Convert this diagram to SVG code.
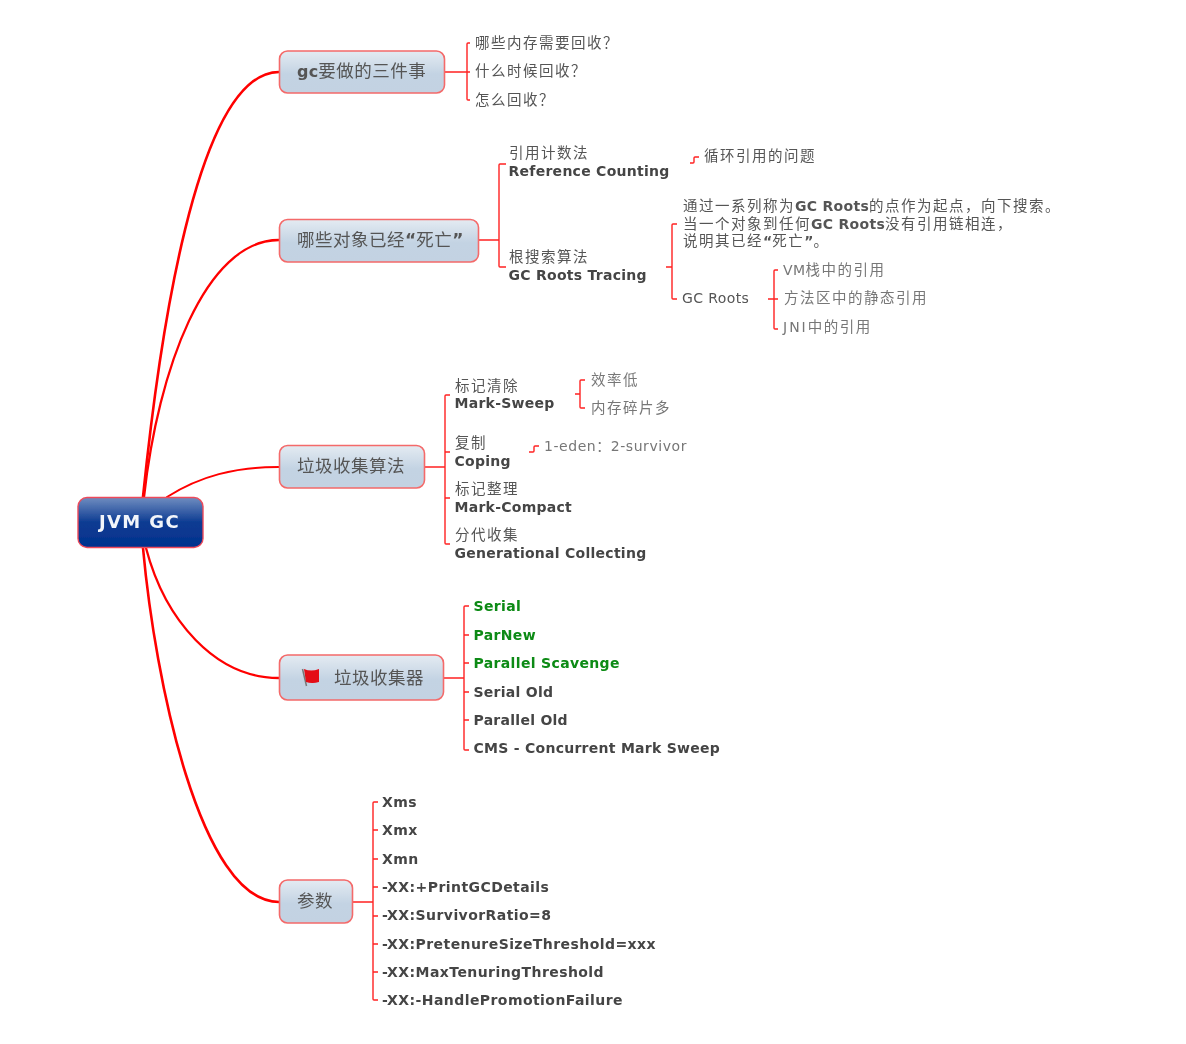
<svg xmlns="http://www.w3.org/2000/svg" width="1186" height="1044" viewBox="0 0 1186 1044">
<style>
text{font-family:"DejaVu Sans","Noto Sans CJK SC",sans-serif;fill:#555;font-size:14px;letter-spacing:.4px}
.cn{font-family:"Noto Sans CJK SC","DejaVu Sans",sans-serif;letter-spacing:1.5px;font-size:14.5px}
.q{font-family:"DejaVu Sans",sans-serif;font-size:14px;font-weight:bold;letter-spacing:0}
.tq{font-family:"DejaVu Sans",sans-serif;font-size:17px;font-weight:bold;letter-spacing:0}
.en{font-family:"DejaVu Sans",sans-serif;letter-spacing:.4px;font-size:14px}
.jni{font-family:"DejaVu Sans",sans-serif;letter-spacing:2px;font-size:14px}
.enb{font-family:"DejaVu Sans",sans-serif;font-weight:bold;letter-spacing:.3px;font-size:14px}
.b{font-weight:bold;fill:#444;font-size:14px;letter-spacing:.27px}
.p{letter-spacing:.43px}
.g{font-weight:bold;fill:#0a8a12;font-size:14px;letter-spacing:.35px}
.lt{fill:#777}
.e{letter-spacing:.55px}
.t{font-family:"Noto Sans CJK SC","DejaVu Sans",sans-serif;font-size:17.500px;fill:#555;letter-spacing:.5px}
.node{fill:url(#ng);stroke:#f46a6a;stroke-width:1.6}
.main{fill:none;stroke:#f00;stroke-linecap:round}
.br{fill:none;stroke:#f22;stroke-width:1.4}
</style>
<defs>
<linearGradient id="ng" x1="0" y1="0" x2="0" y2="1"><stop offset="0" stop-color="#e4ebf2"/><stop offset=".55" stop-color="#c3d3e3"/><stop offset="1" stop-color="#c3d2e2"/></linearGradient>
<linearGradient id="cg" x1="0" y1="0" x2="0" y2="1"><stop offset="0" stop-color="#6f8dc0"/><stop offset=".5" stop-color="#0d3b92"/><stop offset="1" stop-color="#02328e"/></linearGradient>
<filter id="soft" x="0" y="0" width="1" height="1" filterUnits="objectBoundingBox"><feGaussianBlur stdDeviation=".35"/></filter>
</defs>
<g filter="url(#soft)">
<rect width="1186" height="1044" fill="#fff"/>
<g id="connectors">
<path class="main" stroke-width="2.600" d="M143 497C158 350 195 72 279 72"/>
<path class="main" stroke-width="2.300" d="M144 497C158 370 205 240 279 240"/>
<path class="main" stroke-width="2" d="M167 497C200 476 235 467 279 467"/>
<path class="main" stroke-width="2.300" d="M146 548C165 620 215 678 279 678"/>
<path class="main" stroke-width="2.600" d="M143 548C155 680 200 902 279 902"/>
<path class="br" d="M445 72H470M470 43H468Q467 43 467 44V99Q467 100 468 100H470"/>
<path class="br" d="M479 240H499M506 164H500Q499 164 499 165V266Q499 267 500 267H506"/>
<path class="br" d="M690 163H693Q694 163 694 162V158Q694 157 695 157H699"/>
<path class="br" d="M666 267H672M677 224H673Q672 224 672 225V298Q672 299 673 299H677"/>
<path class="br" d="M768 299H778M778 270H775Q774 270 774 271V328Q774 329 775 329H778"/>
<path class="br" d="M424 467H445M450 395H446Q445 395 445 396V543Q445 544 446 544H450M445 452H450M445 498H450"/>
<path class="br" d="M575 394H580M585 380H581Q580 380 580 381V407Q580 408 581 408H585"/>
<path class="br" d="M529 452H533Q534 452 534 451V447Q534 446 535 446H539"/>
<path class="br" d="M443 678H464M469 606H465Q464 606 464 607V749Q464 750 465 750H469M464 635H469M464 663H469M464 692H469M464 720H469"/>
<path class="br" d="M353 902H373M378 802H374Q373 802 373 803V999Q373 1000 374 1000H378M373 830H378M373 859H378M373 887H378M373 916H378M373 944H378M373 972H378"/>
</g>
<g id="center"><rect x="78" y="497.500" width="125" height="50" rx="9" fill="url(#cg)" stroke="#ef4a5a" stroke-width="1.400"/><text x="139.500" y="528" text-anchor="middle" style="font-size:18px;font-weight:bold;fill:#f2f5fa;letter-spacing:1.4px">JVM GC</text></g>
<g id="n1"><rect class="node" x="279.500" y="51" width="165" height="42" rx="8"/><text class="t" x="297" y="77"><tspan style="font-family:'DejaVu Sans';font-weight:bold;font-size:16px;letter-spacing:.2px">gc</tspan>要做的三件事</text></g>
<g id="n1a"><text class="cn" x="475" y="48">哪些内存需要回收？</text></g>
<g id="n1b"><text class="cn" x="475" y="76">什么时候回收？</text></g>
<g id="n1c"><text class="cn" x="475" y="105">怎么回收？</text></g>
<g id="n2"><rect class="node" x="279.500" y="219.500" width="199" height="42.500" rx="8"/><text class="t" x="297" y="246">哪些对象已经<tspan class="tq">“</tspan>死亡<tspan class="tq">”</tspan></text></g>
<g id="n2a"><text class="cn" x="509" y="158">引用计数法</text><text class="b" x="508.500" y="176">Reference Counting</text></g>
<g id="n2a1"><text class="cn" x="704" y="161">循环引用的问题</text></g>
<g id="n2b"><text class="cn" x="509" y="262">根搜索算法</text><text class="b" x="508.500" y="280">GC Roots Tracing</text></g>
<g id="n2b1"><text class="cn" x="683" y="211">通过一系列称为<tspan class="enb">GC Roots</tspan>的点作为起点，向下搜索。</text><text class="cn" x="683" y="229">当一个对象到任何<tspan class="enb">GC Roots</tspan>没有引用链相连，</text><text class="cn" x="683" y="246">说明其已经<tspan class="q">“</tspan>死亡<tspan class="q">”</tspan>。</text></g>
<g id="n2b2"><text x="682" y="303">GC Roots</text></g>
<g id="n2b2a"><text class="cn lt" x="783" y="275"><tspan class="en">VM</tspan>栈中的引用</text></g>
<g id="n2b2b"><text class="cn lt" x="784" y="303">方法区中的静态引用</text></g>
<g id="n2b2c"><text class="cn lt" x="783" y="332"><tspan class="jni">JNI</tspan>中的引用</text></g>
<g id="n3"><rect class="node" x="279.500" y="445.500" width="145" height="42.500" rx="8"/><text class="t" x="297" y="472">垃圾收集算法</text></g>
<g id="n3a"><text class="cn" x="455" y="391">标记清除</text><text class="b" x="454.500" y="408">Mark-Sweep</text></g>
<g id="n3a1"><text class="cn lt" x="591" y="385">效率低</text></g>
<g id="n3a2"><text class="cn lt" x="591" y="413">内存碎片多</text></g>
<g id="n3b"><text class="cn" x="455" y="448">复制</text><text class="b" x="454.500" y="466">Coping</text></g>
<g id="n3b1"><text class="lt e" x="544" y="451">1-eden：2-survivor</text></g>
<g id="n3c"><text class="cn" x="455" y="494">标记整理</text><text class="b" x="454.500" y="512">Mark-Compact</text></g>
<g id="n3d"><text class="cn" x="455" y="540">分代收集</text><text class="b" x="454.500" y="558">Generational Collecting</text></g>
<g id="n4"><rect class="node" x="279.500" y="655" width="164" height="45" rx="8"/><path d="M302.500 669L306.500 686" stroke="#777" stroke-width="1.500"/><path d="M304 669Q311 672 319 669L319 682Q312 684 306 682Z" fill="#e40712"/><text class="t" x="334" y="684">垃圾收集器</text></g>
<g id="n4a"><text class="g" x="473.500" y="611">Serial</text></g>
<g id="n4b"><text class="g" x="473.500" y="640">ParNew</text></g>
<g id="n4c"><text class="g" x="473.500" y="668">Parallel Scavenge</text></g>
<g id="n4d"><text class="b" x="473.500" y="697">Serial Old</text></g>
<g id="n4e"><text class="b" x="473.500" y="725">Parallel Old</text></g>
<g id="n4f"><text class="b" x="473.500" y="753">CMS - Concurrent Mark Sweep</text></g>
<g id="n5"><rect class="node" x="279.500" y="880" width="73" height="43" rx="8"/><text class="t" x="297" y="907">参数</text></g>
<g id="n5a"><text class="b p" x="382" y="807">Xms</text></g>
<g id="n5b"><text class="b p" x="382" y="835">Xmx</text></g>
<g id="n5c"><text class="b p" x="382" y="864">Xmn</text></g>
<g id="n5d"><text class="b p" x="382" y="892">-XX:+PrintGCDetails</text></g>
<g id="n5e"><text class="b p" x="382" y="920">-XX:SurvivorRatio=8</text></g>
<g id="n5f"><text class="b p" x="382" y="949">-XX:PretenureSizeThreshold=xxx</text></g>
<g id="n5g"><text class="b p" x="382" y="977">-XX:MaxTenuringThreshold</text></g>
<g id="n5h"><text class="b p" x="382" y="1005">-XX:-HandlePromotionFailure</text></g>
</g>
</svg>
